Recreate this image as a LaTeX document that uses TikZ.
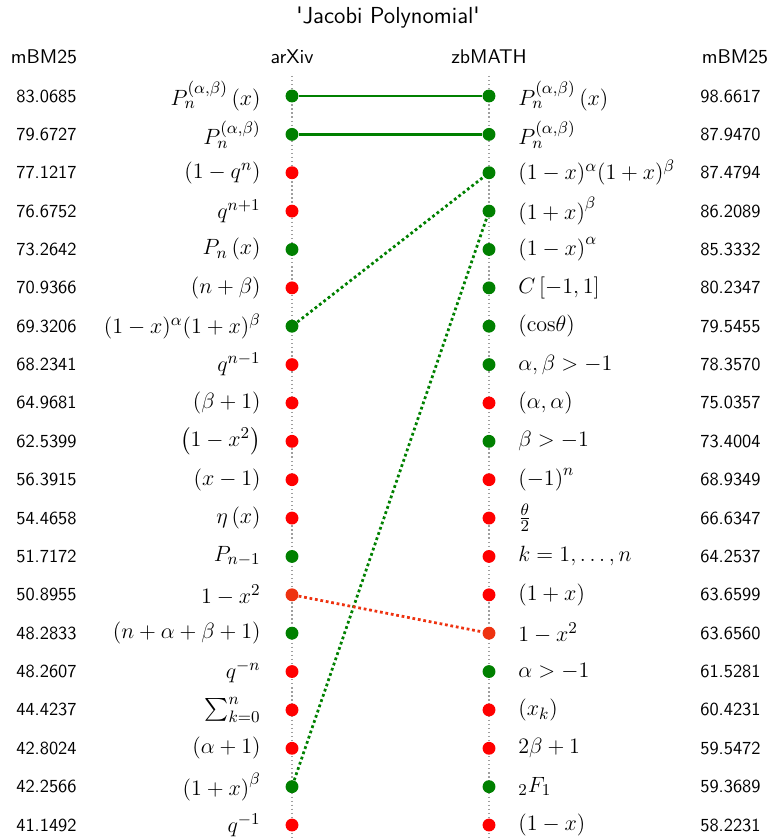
\documentclass[tikz,border=0pt]{standalone}
\usepackage{amsmath,amssymb}
\usepackage{tikz}
\usetikzlibrary{positioning}
\definecolor{hitgreen}{RGB}{0,128,0}
\definecolor{missred}{RGB}{255,0,0}
\definecolor{bothred}{RGB}{238,50,16}

\begin{document}
\begin{tikzpicture}[x=0.5435pt, y=-0.5435pt, font=\sffamily,
  fdot/.style={circle, inner sep=0pt, minimum size=7pt},
  score/.style={anchor=east, inner sep=0pt},
  head/.style={font=\fontsize{10.8}{13}\sffamily},
  formula/.style={inner sep=0pt, font=\fontsize{12.4}{15}\selectfont},
  axisline/.style={gray!75, line width=0.7pt, dash pattern=on 0.7pt off 1.5pt},
  same/.style={hitgreen, line width=1.4pt},
  moved/.style={line width=1.5pt, dash pattern=on 1.5pt off 1.5pt}]
  \useasboundingbox (0,0) rectangle (769,838);

  % titel und spaltenkoepfe
  \node[font=\fontsize{12.6}{15}\sffamily] (title) at (388,18) {\textquotesingle Jacobi Polynomial\textquotesingle};
  \node[head] (hleft) at (44,57) {mBM25};
  \node[head] (harxiv) at (292,57) {arXiv};
  \node[head] (hzb) at (489,57) {zbMATH};
  \node[head] (hright) at (735,57) {mBM25};

  % achsen
  \draw[axisline] (292,76) -- (292,838);
  \draw[axisline] (489,76) -- (489,838);

  % links: arXiv
  \foreach \i/\s/\m/\c in {
    1/83.0685/{P_n^{(\alpha,\beta)}\left(x\right)}/hitgreen,
    2/79.6727/{P_n^{(\alpha,\beta)}}/hitgreen,
    3/77.1217/{(1-q^n)}/missred,
    4/76.6752/{q^{n+1}}/missred,
    5/73.2642/{P_n\left(x\right)}/hitgreen,
    6/70.9366/{(n+\beta)}/missred,
    7/69.3206/{(1-x)^{\alpha}(1+x)^{\beta}}/hitgreen,
    8/68.2341/{q^{n-1}}/missred,
    9/64.9681/{(\beta+1)}/missred,
    10/62.5399/{\left(1-x^2\right)}/missred,
    11/56.3915/{(x-1)}/missred,
    12/54.4658/{\eta\left(x\right)}/missred,
    13/51.7172/{P_{n-1}}/hitgreen,
    14/50.8955/{1-x^2}/bothred,
    15/48.2833/{(n+\alpha+\beta+1)}/hitgreen,
    16/48.2607/{q^{-n}}/missred,
    17/44.4237/{\sum_{k=0}^{n}}/missred,
    18/42.8024/{(\alpha+1)}/missred,
    19/42.2566/{\left(1+x\right)^{\beta}}/hitgreen,
    20/41.1492/{q^{-1}}/missred} {
    \pgfmathsetmacro{\y}{96+(\i-1)*38.37}
    \node[score] (ls\i) at (77,\y) {\s};
    \node[formula, anchor=east] (lf\i) at (261,\y) {$\m$};
    \node[fdot, fill=\c] (a\i) at (292,\y) {};
  }

  % rechts: zbMATH
  \foreach \i/\s/\m/\c in {
    1/98.6617/{P_n^{(\alpha,\beta)}\left(x\right)}/hitgreen,
    2/87.9470/{P_n^{(\alpha,\beta)}}/hitgreen,
    3/87.4794/{(1-x)^{\alpha}(1+x)^{\beta}}/hitgreen,
    4/86.2089/{\left(1+x\right)^{\beta}}/hitgreen,
    5/85.3332/{\left(1-x\right)^{\alpha}}/hitgreen,
    6/80.2347/{C\left[-1,1\right]}/hitgreen,
    7/79.5455/{(\mathrm{cos}\theta)}/hitgreen,
    8/78.3570/{\alpha,\beta>-1}/hitgreen,
    9/75.0357/{(\alpha,\alpha)}/missred,
    10/73.4004/{\beta>-1}/hitgreen,
    11/68.9349/{\left(-1\right)^n}/missred,
    12/66.6347/{\frac{\theta}{2}}/missred,
    13/64.2537/{k=1,\ldots,n}/missred,
    14/63.6599/{(1+x)}/missred,
    15/63.6560/{1-x^2}/bothred,
    16/61.5281/{\alpha>-1}/hitgreen,
    17/60.4231/{(x_k)}/missred,
    18/59.5472/{2\beta+1}/missred,
    19/59.3689/{{}_2F_1}/hitgreen,
    20/58.2231/{(1-x)}/missred} {
    \pgfmathsetmacro{\y}{96+(\i-1)*38.37}
    \node[formula, anchor=west] (rf\i) at (518,\y) {$\m$};
    \node[score] (rs\i) at (761,\y) {\s};
    \node[fdot, fill=\c] (z\i) at (489,\y) {};
  }

  % treffer
  \draw[same] (a1) -- (z1);
  \draw[same] (a2) -- (z2);
  \draw[moved, hitgreen] (a7) -- (z3);
  \draw[moved, hitgreen] (a19) -- (z4);
  \draw[moved, bothred] (a14) -- (z15);
\end{tikzpicture}
\end{document}
